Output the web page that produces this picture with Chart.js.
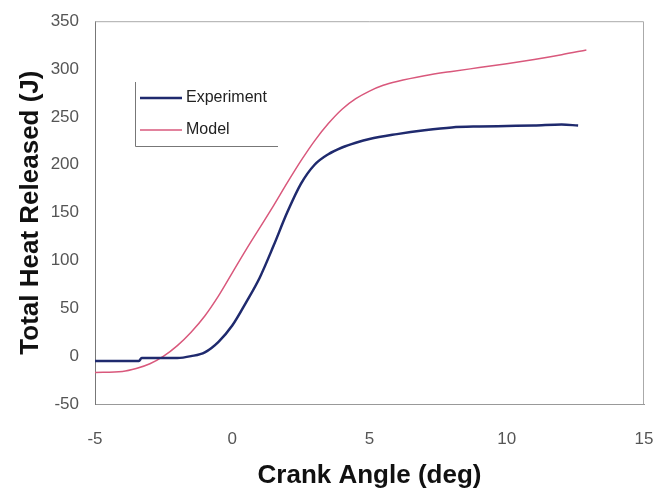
<!DOCTYPE html>
<html>
<head>
<meta charset="utf-8">
<script src="https://cdn.jsdelivr.net/npm/chart.js@4.4.1/dist/chart.umd.min.js"></script>
<style>
  html, body { margin: 0; padding: 0; background: #fff; }
  #wrap { width: 656px; height: 494px; position: relative; }
</style>
</head>
<body>
<div id="wrap"><canvas id="heatChart"></canvas></div>
<script>
// crank angle (deg) and total heat released (J)
const expAngle = [-5, -4, -3.4, -3.3, -2.5, -2, -1.5, -1, -0.5, 0, 0.5, 1, 1.5, 2, 2.5, 3, 3.5, 4, 4.5, 5, 6, 7, 8, 9, 10, 11, 12, 12.6];
const expHeat = [-5, -5, -5, -2, -2, -2, 0, 4, 15, 32, 56, 82, 115, 150, 180, 200, 211, 218, 223, 227, 232, 236, 239, 240, 240.5, 241, 242, 241];

const modelAngle = [-5, -4, -3.5, -3, -2.5, -2, -1.5, -1, -0.5, 0, 0.5, 1, 1.5, 2, 2.5, 3, 3.5, 4, 4.5, 5, 5.5, 6, 7, 8, 9, 10, 11, 12, 12.9];
const modelHeat = [-17, -16, -13, -8, 0, 11, 25, 42, 63, 87, 111, 134, 157, 181, 204, 225, 243, 258, 269, 277, 283, 287, 293, 297.5, 301.5, 305.5, 310, 315, 320];

const seriesNames = ["Experiment", "Model"];
const xTicks = [-5, 0, 5, 10, 15];
const yTicks = [-50, 0, 50, 100, 150, 200, 250, 300, 350];

const fontFamily = "'Liberation Sans', Arial, sans-serif";

function toPoints(xs, ys) {
  return xs.map(function(x, i) { return { x: x, y: ys[i] }; });
}

// legend drawn inside the plot, like the original (left + bottom border only)
const boxLegend = {
  id: "boxLegend",
  afterDatasetsDraw: function(chart) {
    const ctx = chart.ctx;
    const left = 135, top = 82, right = 278, bottom = 146;
    ctx.save();
    ctx.strokeStyle = "#777";
    ctx.lineWidth = 1;
    ctx.beginPath();
    ctx.moveTo(left + 0.5, top);
    ctx.lineTo(left + 0.5, bottom + 0.5);
    ctx.lineTo(right, bottom + 0.5);
    ctx.stroke();
    ctx.font = "16px " + fontFamily;
    ctx.textBaseline = "middle";
    chart.data.datasets.forEach(function(ds, i) {
      const y = 98 + i * 32;
      ctx.strokeStyle = ds.borderColor;
      ctx.lineWidth = ds.borderWidth;
      ctx.beginPath();
      ctx.moveTo(140, y);
      ctx.lineTo(182, y);
      ctx.stroke();
      ctx.fillStyle = "#222";
      ctx.fillText(ds.label, 186, y);
    });
    ctx.restore();
  }
};

const ctxHeat = document.getElementById("heatChart").getContext("2d");
const heatChart = new Chart(ctxHeat, {
  type: "line",
  data: {
    datasets: [
      {
        label: seriesNames[0],
        data: toPoints(expAngle, expHeat),
        borderColor: "#1f2a6e",
        borderWidth: 2.5,
        pointRadius: 0,
        cubicInterpolationMode: "monotone",
        fill: false
      },
      {
        label: seriesNames[1],
        data: toPoints(modelAngle, modelHeat),
        borderColor: "#d9587c",
        borderWidth: 1.5,
        pointRadius: 0,
        cubicInterpolationMode: "monotone",
        fill: false
      }
    ]
  },
  options: {
    responsive: true,
    maintainAspectRatio: false,
    animation: false,
    layout: { padding: { left: 0, right: 0, top: 20, bottom: 0 } },
    plugins: {
      legend: { display: false },
      tooltip: { enabled: false }
    },
    scales: {
      x: {
        type: "linear",
        min: -5,
        max: 15,
        afterBuildTicks: function(scale) {
          scale.ticks = xTicks.map(function(v) { return { value: v }; });
        },
        afterFit: function(scale) {
          scale.height = 90;
          scale.paddingLeft = 0;
          scale.paddingRight = 12;
        },
        grid: { display: false, tickLength: 5 },
        border: { display: true, color: "#999", width: 1 },
        ticks: {
          color: "#555",
          padding: 20,
          maxRotation: 0,
          font: { family: fontFamily, size: 17 }
        },
        title: {
          display: true,
          text: "Crank Angle (deg)",
          color: "#111",
          padding: { top: 0, bottom: 3 },
          font: { family: fontFamily, size: 26, weight: "bold" }
        }
      },
      y: {
        type: "linear",
        min: -50,
        max: 350,
        afterBuildTicks: function(scale) {
          scale.ticks = yTicks.map(function(v) { return { value: v }; });
        },
        afterFit: function(scale) { scale.width = 95; },
        grid: { display: false, tickLength: 5 },
        border: { display: true, color: "#777", width: 1 },
        ticks: {
          color: "#555",
          padding: 11,
          font: { family: fontFamily, size: 17 }
        },
        title: {
          display: true,
          text: "Total Heat Released (J)",
          color: "#111",
          padding: { top: 15, bottom: 0 },
          font: { family: fontFamily, size: 26, weight: "bold" }
        }
      }
    }
  },
  plugins: [
    boxLegend,
    {
      id: "frame",
      beforeDatasetsDraw: function(chart) {
        const a = chart.chartArea;
        const c = chart.ctx;
        c.save();
        c.strokeStyle = "#aaa";
        c.lineWidth = 1;
        c.beginPath();
        c.moveTo(a.left, a.top + 0.5);
        c.lineTo(a.right - 0.5, a.top + 0.5);
        c.lineTo(a.right - 0.5, a.bottom);
        c.stroke();
        c.restore();
      }
    }
  ]
});
</script>
</body>
</html>
